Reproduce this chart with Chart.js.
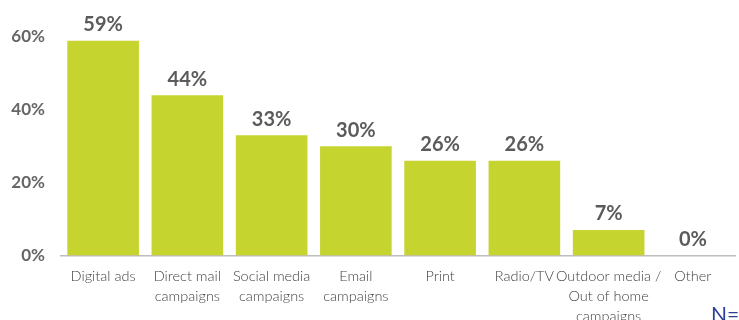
<!DOCTYPE html>
<html>
<head>
<meta charset="utf-8">
<script src="https://cdn.jsdelivr.net/npm/chart.js@4/dist/chart.umd.min.js"></script>
<style>
  body { margin: 0; background: #fff; overflow: hidden; }
  #wrap { position: relative; width: 739px; height: 320px; }
  #note { position: absolute; left: 711px; top: 301px; font: 21px Lato, sans-serif; color: #2a3f9a; }
</style>
</head>
<body>
<div id="wrap">
  <canvas id="channels" width="739" height="320"></canvas>
  <div id="note">N=</div>
</div>
<script>

var categories = [
  "Digital ads",
  ["Direct mail", "campaigns"],
  ["Social media", "campaigns"],
  ["Email", "campaigns"],
  "Print",
  "Radio/TV",
  ["Outdoor media /", "Out of home", "campaigns"],
  "Other"
];
var shares = [59, 44, 33, 30, 26, 26, 7, 0];
var yTicks = [0, 20, 40, 60];

var barLabels = {
  id: 'barLabels',
  afterDatasetsDraw: function(chart) {
    var ctx = chart.ctx;
    var meta = chart.getDatasetMeta(0);
    ctx.save();
    ctx.font = 'bold 20px Lato, sans-serif';
    ctx.fillStyle = '#5b5b5b';
    ctx.textAlign = 'center';
    ctx.textBaseline = 'middle';
    for (var i = 0; i < meta.data.length; i++) {
      var bar = meta.data[i];
      ctx.fillText(shares[i] + '%', bar.x, bar.y - 16);
    }
    ctx.restore();
  }
};

var ctx = document.getElementById('channels');
new Chart(ctx, {
  type: 'bar',
  data: {
    labels: categories,
    datasets: [{
      data: shares,
      backgroundColor: '#c5d42f',
      categoryPercentage: 1,
      barPercentage: 0.85
    }]
  },
  options: {
    responsive: false,
    animation: false,
    layout: { padding: { top: 37, right: 4, left: 0, bottom: 0 } },
    plugins: { legend: { display: false }, tooltip: { enabled: false } },
    scales: {
      x: {
        grid: { display: false },
        border: { color: '#bdbdbd', width: 1.5 },
        ticks: {
          color: '#3f3f3f',
          font: { family: 'Lato', size: 14.5, weight: 300, lineHeight: 1.38 },
          padding: 3,
          maxRotation: 0,
          autoSkip: false
        },
        afterFit: function(scale) { scale.height = 64.5; }
      },
      y: {
        min: 0,
        max: 60,
        afterBuildTicks: function(scale) {
          scale.ticks = yTicks.map(function(v) { return { value: v }; });
        },
        grid: { display: false },
        border: { display: false },
        ticks: {
          color: '#666',
          font: { family: 'Lato', size: 17, weight: 'bold' },
          padding: 8,
          callback: function(v) { return v + '%'; }
        },
        afterFit: function(scale) { scale.width = 61; }
      }
    }
  },
  plugins: [barLabels]
});
</script>
</body>
</html>
